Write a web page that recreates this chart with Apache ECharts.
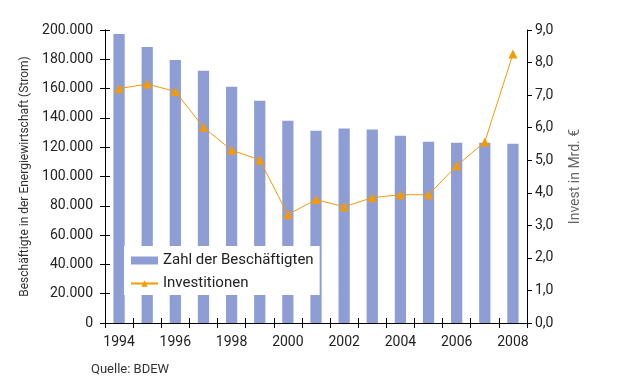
<!DOCTYPE html>
<html><head><meta charset="utf-8">
<script src="https://cdn.jsdelivr.net/npm/echarts@6/dist/echarts.min.js"></script>
<style>html,body{margin:0;padding:0;background:#fff}#c{width:640px;height:392px}</style>
</head><body><div id="c"></div>
<script>
var years = ['1994','1995','1996','1997','1998','1999','2000','2001','2002','2003','2004','2005','2006','2007','2008'];
var employees = [197300,188400,179600,172100,161200,151700,138100,131300,132700,132000,127900,123800,123100,123100,122400];
var investments = [7.20,7.34,7.11,6.01,5.31,5.01,3.33,3.79,3.57,3.85,3.94,3.94,4.83,5.56,8.26];
var leftName = 'Beschäftigte in der Energiewirtschaft (Strom)';
var rightName = 'Invest in Mrd. €';
var barName = 'Zahl der Beschäftigten';
var lineName = 'Investitionen';
var source = 'Quelle: BDEW';

var FONT = 'Roboto';
var chart = echarts.init(document.getElementById('c'));
function fmtLeft(v){ if(v===0) return '0'; return String(v).replace(/\B(?=(\d{3})+(?!\d))/g,'.'); }
function fmtRight(v){ return v.toFixed(1).replace('.', ','); }
var axLine = {show:true, lineStyle:{color:'#000', width:1}};
chart.setOption({
  animation:false,
  textStyle:{fontFamily:FONT},
  grid:{left:105, right:113, top:30, bottom:69},
  legend:{
    orient:'vertical', left:124, top:246, backgroundColor:'#fff',
    padding:[7,6,4,6], itemWidth:27, itemHeight:8, itemGap:8,
    textStyle:{fontFamily:FONT, fontSize:15, color:'#222'},
    data:[{name:barName, icon:'rect'}, {name:lineName}]
  },
  xAxis:[{
    type:'category', data:years, position:'bottom',
    axisLine:axLine,
    axisTick:{show:true, interval:0, length:5, lineStyle:{color:'#000'}},
    axisLabel:{interval:1, fontFamily:FONT, fontSize:14, color:'#222', margin:12}
  },{
    type:'category', data:years, position:'bottom',
    axisLine:axLine,
    axisTick:{show:true, inside:true, interval:0, length:5, lineStyle:{color:'#000'}},
    axisLabel:{show:false}
  }],
  yAxis:[{
    type:'value', position:'left', min:0, max:200000, interval:20000,
    name:leftName, nameLocation:'middle', nameGap:71,
    nameTextStyle:{fontFamily:FONT, fontSize:12, color:'#333'},
    axisLine:axLine,
    axisTick:{show:true, length:5, lineStyle:{color:'#000'}},
    axisLabel:{formatter:fmtLeft, fontFamily:FONT, fontSize:14, color:'#222', margin:12},
    splitLine:{show:false}
  },{
    type:'value', position:'right', min:0, max:9, interval:1,
    name:rightName, nameLocation:'middle', nameGap:41, nameRotate:90,
    nameTextStyle:{fontFamily:FONT, fontSize:14, color:'#666'},
    axisLine:axLine,
    axisTick:{show:true, length:5, lineStyle:{color:'#000'}},
    axisLabel:{formatter:fmtRight, fontFamily:FONT, fontSize:14, color:'#222', margin:8},
    splitLine:{show:false}
  },{
    type:'value', position:'left', min:0, max:200000, interval:20000,
    axisLine:axLine,
    axisTick:{show:true, inside:true, length:5, lineStyle:{color:'#000'}},
    axisLabel:{show:false}, splitLine:{show:false}
  }],
  series:[{
    name:barName, type:'bar', data:employees, xAxisIndex:0, yAxisIndex:0,
    barWidth:'40%', itemStyle:{color:'#8E9ED5'}
  },{
    name:lineName, type:'line', data:investments, xAxisIndex:0, yAxisIndex:1,
    symbol:'triangle', symbolSize:9,
    lineStyle:{color:'#F59A00', width:1}, itemStyle:{color:'#F59A00'}
  }],
  graphic:[{type:'text', left:91, top:363, style:{text:source, fontFamily:FONT, fontSize:13, fill:'#333'}}]
});
</script></body></html>
